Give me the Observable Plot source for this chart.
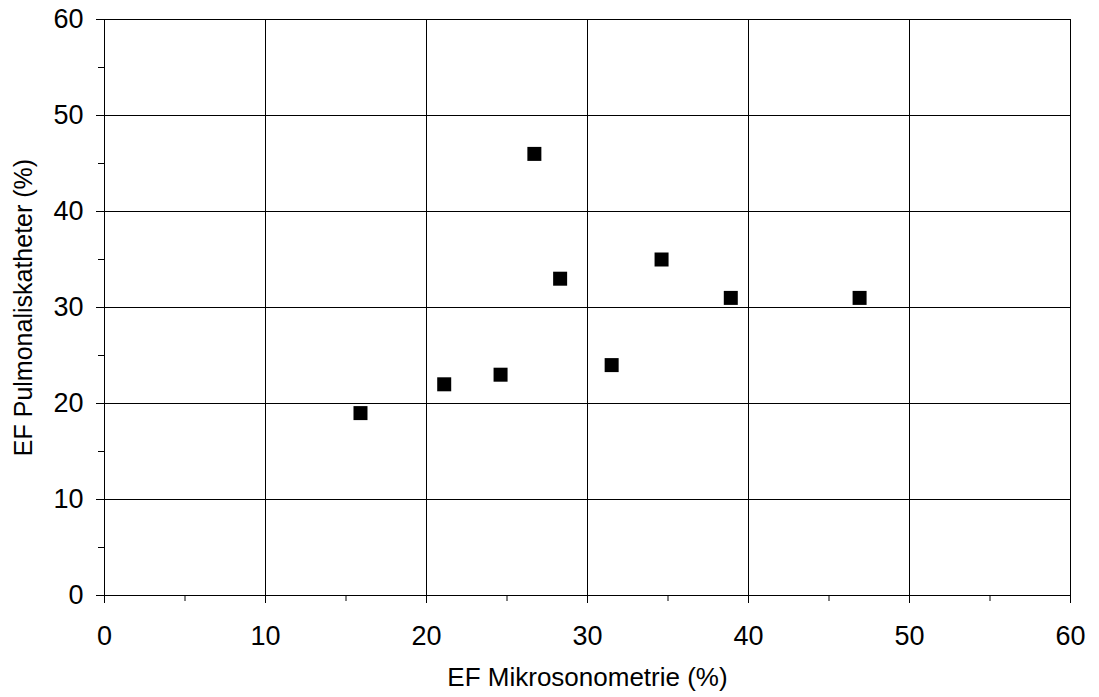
<!DOCTYPE html>
<html>
<head>
<meta charset="utf-8">
<script src="https://cdn.jsdelivr.net/npm/d3@7"></script>
<script src="https://cdn.jsdelivr.net/npm/@observablehq/plot@0.6"></script>
<style>
  html, body { margin: 0; padding: 0; background: #fff; }
  svg { display: block; }
</style>
</head>
<body>
<div id="chart"></div>
<script>
const efMikro = [15.9, 21.1, 24.6, 26.7, 28.3, 31.5, 34.6, 38.9, 46.9];
const efPulm  = [19,   22,   23,   46,   33,   24,   35,   31,   31];
const majorTicks = [0, 10, 20, 30, 40, 50, 60];
const minorTicks = [5, 15, 25, 35, 45, 55];
const xLabel = "EF Mikrosonometrie (%)";
const yLabel = "EF Pulmonaliskatheter (%)";

const data = efMikro.map((x, i) => ({x, y: efPulm[i]}));
const font = "Liberation Sans, Arial, sans-serif";

const chart = Plot.plot({
  width: 1099,
  height: 697,
  marginLeft: 104,
  marginRight: 29,
  marginTop: 19,
  marginBottom: 102,
  style: {fontFamily: font, background: "#fff", color: "#000"},
  x: {domain: [0, 60]},
  y: {domain: [0, 60]},
  marks: [
    Plot.ruleX(majorTicks, {stroke: "#000", strokeWidth: 1}),
    Plot.ruleY(majorTicks, {stroke: "#000", strokeWidth: 1}),
    Plot.axisX(majorTicks, {tickSize: 8, tickPadding: 22, fontSize: 27, label: null, stroke: "#000"}),
    Plot.axisX(minorTicks, {tickSize: 6, text: null, label: null, stroke: "#000"}),
    Plot.axisY(majorTicks, {tickSize: 8, tickPadding: 13, fontSize: 27, label: null, stroke: "#000"}),
    Plot.axisY(minorTicks, {tickSize: 6, text: null, label: null, stroke: "#000"}),
    Plot.text([xLabel], {frameAnchor: "bottom", dy: 90, fontSize: 26, fill: "#000"}),
    Plot.text([yLabel], {frameAnchor: "left", textAnchor: "middle", lineAnchor: "middle", dx: -81, dy: 0, rotate: -90, fontSize: 25, fill: "#000"}),
    Plot.dot(data, {x: "x", y: "y", symbol: "square", r: 7.9, fill: "#000", stroke: "none"})
  ]
});
document.getElementById("chart").appendChild(chart);
</script>
</body>
</html>
